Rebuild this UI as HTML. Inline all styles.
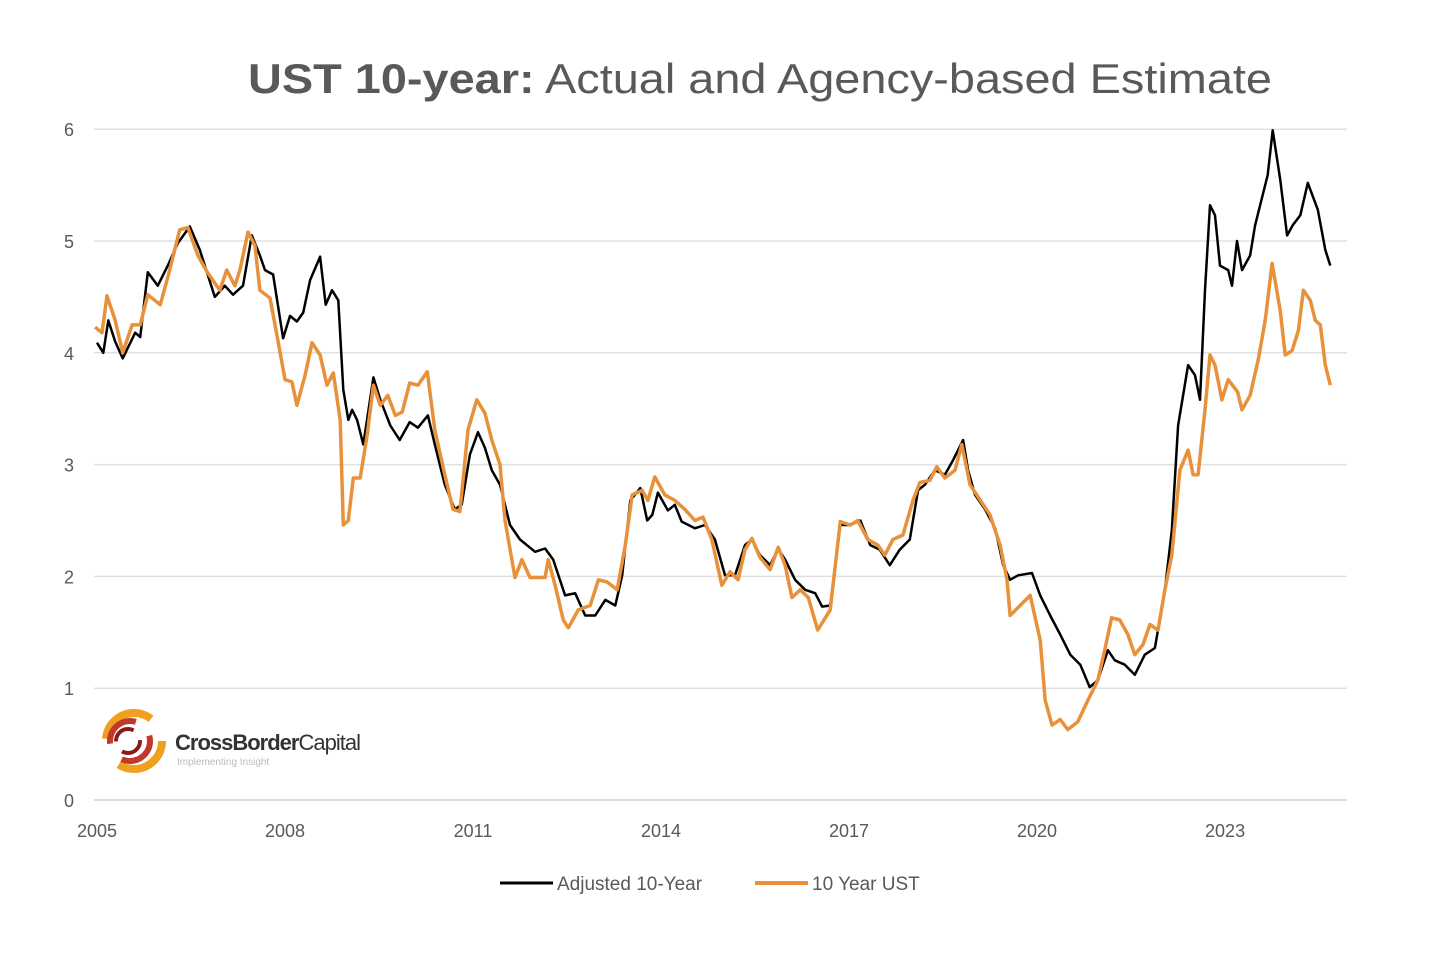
<!DOCTYPE html>
<html><head><meta charset="utf-8"><style>
body{margin:0;background:#fff;width:1456px;height:954px;overflow:hidden;font-family:"Liberation Sans",sans-serif}
</style></head><body>
<svg width="1456" height="954" xmlns="http://www.w3.org/2000/svg">
<text x="248" y="93" font-size="42" fill="#595959" textLength="1024" lengthAdjust="spacingAndGlyphs"><tspan font-weight="bold">UST 10-year:</tspan> Actual and Agency-based Estimate</text>
<g id="grid"></g><g id="yt"></g><g id="xt"></g>
<g>
<circle cx="134" cy="741" r="28" fill="none" stroke="#f0a020" stroke-width="8" stroke-dasharray="60 30"/>
<circle cx="130" cy="741" r="20" fill="none" stroke="#c0392b" stroke-width="6" stroke-dasharray="40 20"/>
<circle cx="128" cy="741" r="12" fill="none" stroke="#8b1a1a" stroke-width="4" stroke-dasharray="25 12"/>
<text x="175" y="750" font-size="22" fill="#333" letter-spacing="-1"><tspan font-weight="bold">CrossBorder</tspan>Capital</text>
<text x="177" y="765" font-size="10" fill="#bbb">Implementing Insight</text>
</g>
<path id="black" fill="none" stroke="#000" stroke-width="2.5" stroke-linejoin="round"/>
<path id="orange" fill="none" stroke="#e8913a" stroke-width="3.5" stroke-linejoin="round"/>
<g>
<line x1="500" y1="883" x2="553" y2="883" stroke="#000" stroke-width="3"/>
<text x="557" y="890" font-size="19" fill="#595959">Adjusted 10-Year</text>
<line x1="755" y1="883" x2="808" y2="883" stroke="#e8913a" stroke-width="4"/>
<text x="812" y="890" font-size="19" fill="#595959">10 Year UST</text>
</g>
</svg>
<script>
const yTicks=[0,1,2,3,4,5,6];
const xTicks=[2005,2008,2011,2014,2017,2020,2023];
const blackDates=[2005.00,2005.10,2005.18,2005.29,2005.41,2005.61,2005.69,2005.81,2005.97,2006.13,2006.29,2006.48,2006.64,2006.88,2007.04,2007.17,2007.33,2007.47,2007.60,2007.68,2007.81,2007.97,2008.08,2008.19,2008.29,2008.40,2008.56,2008.65,2008.75,2008.85,2008.93,2009.01,2009.07,2009.15,2009.25,2009.41,2009.52,2009.68,2009.83,2009.99,2010.12,2010.28,2010.39,2010.55,2010.71,2010.82,2010.95,2011.08,2011.19,2011.30,2011.43,2011.59,2011.75,2011.99,2012.15,2012.28,2012.47,2012.63,2012.79,2012.95,2013.11,2013.27,2013.38,2013.51,2013.67,2013.78,2013.86,2013.95,2014.11,2014.22,2014.33,2014.54,2014.70,2014.86,2015.02,2015.18,2015.34,2015.45,2015.58,2015.74,2015.87,2015.98,2016.14,2016.30,2016.46,2016.57,2016.70,2016.86,2017.02,2017.18,2017.34,2017.49,2017.65,2017.81,2017.97,2018.10,2018.21,2018.37,2018.53,2018.66,2018.82,2018.90,2019.01,2019.17,2019.33,2019.46,2019.57,2019.70,2019.92,2020.05,2020.21,2020.37,2020.53,2020.69,2020.84,2020.97,2021.13,2021.24,2021.40,2021.56,2021.72,2021.88,2022.04,2022.15,2022.25,2022.41,2022.52,2022.60,2022.68,2022.76,2022.84,2022.92,2023.05,2023.11,2023.19,2023.27,2023.40,2023.48,2023.68,2023.76,2023.88,2023.99,2024.08,2024.20,2024.32,2024.48,2024.60,2024.68];
const blackValues=[4.09,4.0,4.29,4.1,3.95,4.18,4.14,4.72,4.6,4.78,4.98,5.13,4.92,4.5,4.6,4.52,4.6,5.05,4.87,4.74,4.7,4.13,4.33,4.28,4.36,4.65,4.86,4.43,4.56,4.47,3.67,3.4,3.49,3.4,3.18,3.78,3.58,3.35,3.22,3.38,3.33,3.44,3.18,2.82,2.6,2.64,3.09,3.29,3.15,2.95,2.82,2.46,2.33,2.22,2.25,2.15,1.83,1.85,1.65,1.65,1.79,1.74,2.01,2.68,2.79,2.5,2.55,2.75,2.59,2.64,2.49,2.43,2.46,2.33,2.01,2.01,2.28,2.33,2.19,2.1,2.25,2.15,1.97,1.88,1.85,1.73,1.74,2.46,2.46,2.5,2.28,2.24,2.1,2.24,2.33,2.77,2.82,2.95,2.91,3.04,3.22,2.95,2.73,2.6,2.43,2.1,1.97,2.01,2.03,1.83,1.65,1.48,1.3,1.21,1.01,1.07,1.34,1.25,1.21,1.12,1.3,1.36,1.88,2.41,3.35,3.89,3.8,3.58,4.56,5.32,5.23,4.78,4.74,4.6,5.0,4.74,4.87,5.14,5.59,5.99,5.55,5.05,5.14,5.23,5.52,5.28,4.92,4.78];
const ustDates=[2004.97,2005.08,2005.16,2005.29,2005.41,2005.56,2005.69,2005.81,2006.01,2006.16,2006.32,2006.45,2006.61,2006.76,2006.96,2007.07,2007.20,2007.28,2007.41,2007.52,2007.60,2007.76,2007.87,2008.00,2008.11,2008.19,2008.32,2008.43,2008.56,2008.67,2008.77,2008.88,2008.93,2009.01,2009.09,2009.20,2009.31,2009.41,2009.52,2009.64,2009.76,2009.87,2009.99,2010.12,2010.27,2010.39,2010.55,2010.68,2010.79,2010.92,2011.06,2011.19,2011.30,2011.43,2011.51,2011.67,2011.78,2011.91,2012.15,2012.20,2012.31,2012.44,2012.52,2012.68,2012.87,2013.00,2013.14,2013.30,2013.43,2013.54,2013.70,2013.79,2013.90,2014.06,2014.22,2014.38,2014.54,2014.67,2014.81,2014.97,2015.10,2015.23,2015.34,2015.45,2015.58,2015.74,2015.87,2015.98,2016.09,2016.22,2016.35,2016.50,2016.70,2016.86,2017.02,2017.14,2017.30,2017.46,2017.57,2017.70,2017.86,2018.02,2018.13,2018.29,2018.40,2018.53,2018.69,2018.80,2018.93,2019.06,2019.25,2019.41,2019.52,2019.57,2019.73,2019.89,2020.05,2020.13,2020.24,2020.37,2020.49,2020.65,2020.81,2020.97,2021.08,2021.19,2021.32,2021.45,2021.56,2021.69,2021.80,2021.93,2022.04,2022.15,2022.28,2022.41,2022.49,2022.57,2022.68,2022.76,2022.84,2022.95,2023.05,2023.20,2023.27,2023.40,2023.53,2023.64,2023.75,2023.88,2023.96,2024.07,2024.17,2024.25,2024.36,2024.44,2024.52,2024.60,2024.68];
const ustValues=[4.23,4.18,4.51,4.29,4.0,4.25,4.25,4.52,4.43,4.74,5.1,5.12,4.87,4.72,4.56,4.74,4.6,4.74,5.08,4.96,4.56,4.49,4.16,3.76,3.74,3.53,3.8,4.09,3.98,3.71,3.82,3.4,2.46,2.5,2.88,2.88,3.26,3.71,3.53,3.62,3.44,3.47,3.73,3.71,3.83,3.31,2.91,2.6,2.58,3.31,3.58,3.46,3.22,3.0,2.5,1.99,2.15,1.99,1.99,2.15,1.92,1.61,1.54,1.7,1.74,1.97,1.95,1.88,2.28,2.73,2.77,2.68,2.89,2.73,2.68,2.6,2.5,2.53,2.33,1.92,2.04,1.97,2.24,2.34,2.17,2.06,2.26,2.1,1.81,1.88,1.81,1.52,1.7,2.49,2.46,2.5,2.33,2.28,2.19,2.33,2.37,2.68,2.84,2.86,2.98,2.88,2.95,3.18,2.82,2.71,2.55,2.28,1.97,1.65,1.74,1.83,1.43,0.89,0.67,0.72,0.63,0.7,0.89,1.07,1.34,1.63,1.61,1.48,1.3,1.39,1.57,1.52,1.88,2.19,2.95,3.13,2.91,2.91,3.49,3.98,3.89,3.58,3.76,3.65,3.49,3.62,3.94,4.29,4.8,4.38,3.98,4.02,4.2,4.56,4.47,4.29,4.25,3.89,3.71];
const NS="http://www.w3.org/2000/svg";
const X0=97,PX_YEAR=62.67,Y0=800,PX_UNIT=111.8;
const sx=t=>X0+(t-2005)*PX_YEAR;
const sy=v=>Y0-v*PX_UNIT;
const grid=document.getElementById('grid'),yt=document.getElementById('yt'),xt=document.getElementById('xt');
yTicks.forEach(v=>{
  const l=document.createElementNS(NS,'line');
  l.setAttribute('x1',94);l.setAttribute('x2',1347);l.setAttribute('y1',sy(v));l.setAttribute('y2',sy(v));
  l.setAttribute('stroke',v===0?'#d0d0d0':'#e0e0e0');l.setAttribute('stroke-width',1.5);
  
  
  grid.appendChild(l);
  const t=document.createElementNS(NS,'text');
  t.setAttribute('x',74);t.setAttribute('y',sy(v)+7);t.setAttribute('text-anchor','end');
  t.setAttribute('font-size','18');t.setAttribute('fill','#595959');t.textContent=v;
  
  
  yt.appendChild(t);
});
xTicks.forEach(y=>{
  const t=document.createElementNS(NS,'text');
  t.setAttribute('x',sx(y));t.setAttribute('y',837);t.setAttribute('text-anchor','middle');
  t.setAttribute('font-size','18');t.setAttribute('fill','#595959');t.textContent=y;
  
  
  xt.appendChild(t);
});
function path(d,v){return d.map((t,i)=>(i?'L':'M')+sx(t).toFixed(1)+','+sy(v[i]).toFixed(1)).join(' ');}
document.getElementById('black').setAttribute('d',path(blackDates,blackValues));
document.getElementById('orange').setAttribute('d',path(ustDates,ustValues));
</script>
</body></html>
